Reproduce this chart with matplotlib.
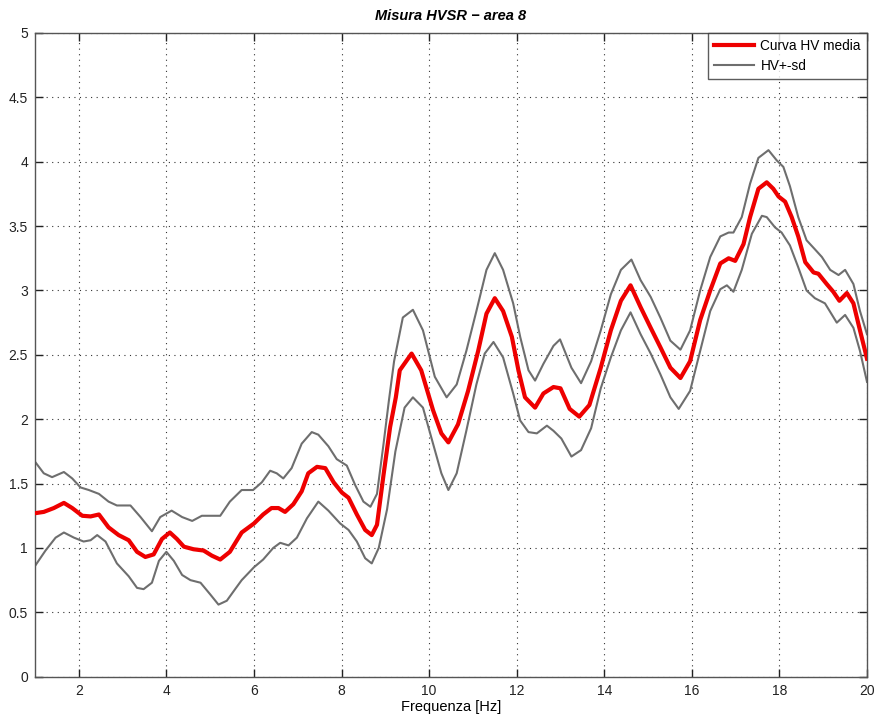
import matplotlib
matplotlib.use("Agg")
import matplotlib.pyplot as plt

# Mean HV curve
f_mean = [1.0, 1.2, 1.43, 1.66, 1.85, 2.08, 2.27, 2.46, 2.68, 2.91, 3.14, 3.33, 3.52, 3.71, 3.9,
          4.08, 4.24, 4.4, 4.62, 4.85, 5.04, 5.23, 5.45, 5.72, 6.0, 6.21, 6.4, 6.56, 6.71, 6.9,
          7.09, 7.24, 7.44, 7.63, 7.82, 8.01, 8.16, 8.35, 8.54, 8.69, 8.81, 8.96, 9.11, 9.24,
          9.33, 9.6, 9.82, 10.09, 10.28, 10.44, 10.66, 10.89, 11.12, 11.31, 11.5, 11.69, 11.89,
          12.04, 12.19, 12.42, 12.61, 12.84, 13.0, 13.21, 13.43, 13.66, 13.92, 14.15, 14.38,
          14.6, 14.83, 15.06, 15.28, 15.51, 15.74, 15.96, 16.19, 16.42, 16.65, 16.84, 16.99,
          17.18, 17.33, 17.52, 17.71, 17.86, 17.98, 18.13, 18.28, 18.43, 18.59, 18.78, 18.89,
          19.08, 19.23, 19.37, 19.54, 19.69, 19.84, 20.0]
hv_mean = [1.27, 1.28, 1.31, 1.35, 1.31, 1.25, 1.245, 1.26, 1.16, 1.10, 1.06, 0.97, 0.93, 0.95,
           1.07, 1.12, 1.07, 1.01, 0.99, 0.98, 0.94, 0.91, 0.97, 1.12, 1.19, 1.26, 1.31, 1.31,
           1.28, 1.34, 1.44, 1.58, 1.63, 1.62, 1.51, 1.43, 1.39, 1.26, 1.14, 1.10, 1.18, 1.57,
           1.94, 2.17, 2.38, 2.51, 2.38, 2.07, 1.89, 1.82, 1.96, 2.22, 2.53, 2.82, 2.94, 2.84,
           2.64, 2.38, 2.17, 2.09, 2.20, 2.25, 2.24, 2.08, 2.02, 2.11, 2.40, 2.69, 2.92, 3.04,
           2.87, 2.71, 2.56, 2.40, 2.32, 2.45, 2.77, 3.0, 3.21, 3.25, 3.23, 3.36, 3.57, 3.79,
           3.84, 3.79, 3.73, 3.69, 3.57, 3.42, 3.22, 3.14, 3.13, 3.05, 2.99, 2.92, 2.98, 2.90,
           2.69, 2.47]

# Upper curve (HV + sd)
f_up = [1.0, 1.2, 1.39, 1.66, 1.85, 2.04, 2.23, 2.46, 2.68, 2.87, 3.18, 3.41, 3.67, 3.86, 4.12,
        4.36, 4.59, 4.81, 5.23, 5.45, 5.72, 5.98, 6.18, 6.37, 6.52, 6.67, 6.86, 7.09, 7.32, 7.47,
        7.7, 7.89, 8.12, 8.31, 8.5, 8.66, 8.81, 8.96, 9.08, 9.2, 9.4, 9.63, 9.86, 10.13, 10.4,
        10.63, 10.85, 11.08, 11.31, 11.5, 11.69, 11.92, 12.08, 12.27, 12.42, 12.61, 12.84,
        12.99, 13.25, 13.47, 13.7, 13.92, 14.15, 14.38, 14.62, 14.83, 15.06, 15.28, 15.51,
        15.74, 15.96, 16.19, 16.42, 16.65, 16.84, 16.95, 17.14, 17.33, 17.52, 17.75, 17.94,
        18.09, 18.24, 18.43, 18.62, 18.81, 18.97, 19.16, 19.35, 19.5, 19.69, 19.84, 20.0]
hv_up = [1.67, 1.58, 1.55, 1.59, 1.54, 1.47, 1.45, 1.42, 1.36, 1.33, 1.33, 1.24, 1.13, 1.24,
         1.29, 1.24, 1.21, 1.25, 1.25, 1.36, 1.45, 1.45, 1.51, 1.60, 1.58, 1.54, 1.62, 1.81,
         1.90, 1.88, 1.79, 1.69, 1.64, 1.49, 1.36, 1.32, 1.42, 1.81, 2.14, 2.45, 2.79, 2.85,
         2.69, 2.33, 2.17, 2.27, 2.53, 2.84, 3.16, 3.29, 3.16, 2.90, 2.64, 2.38, 2.30, 2.43,
         2.57, 2.62, 2.40, 2.28, 2.45, 2.69, 2.97, 3.16, 3.24, 3.08, 2.95, 2.79, 2.61, 2.54,
         2.69, 3.0, 3.26, 3.42, 3.45, 3.45, 3.57, 3.83, 4.03, 4.09, 4.01, 3.96, 3.81, 3.57,
         3.39, 3.32, 3.26, 3.16, 3.12, 3.16, 3.05, 2.84, 2.66]

# Lower curve (HV - sd)
f_lo = [1.0, 1.24, 1.47, 1.66, 1.89, 2.11, 2.27, 2.42, 2.61, 2.87, 3.14, 3.33, 3.48, 3.67, 3.83,
        4.0, 4.17, 4.36, 4.55, 4.78, 5.0, 5.19, 5.38, 5.57, 5.72, 6.0, 6.21, 6.44, 6.6, 6.79,
        6.98, 7.21, 7.47, 7.7, 7.97, 8.16, 8.35, 8.54, 8.69, 8.85, 9.04, 9.23, 9.44, 9.63, 9.86,
        10.09, 10.28, 10.44, 10.63, 10.85, 11.08, 11.27, 11.47, 11.69, 11.92, 12.08, 12.27,
        12.46, 12.69, 12.84, 13.02, 13.25, 13.47, 13.7, 13.92, 14.15, 14.38, 14.6, 14.83, 15.06,
        15.28, 15.51, 15.7, 15.96, 16.19, 16.42, 16.65, 16.8, 16.95, 17.14, 17.37, 17.6, 17.71,
        17.9, 18.05, 18.24, 18.43, 18.62, 18.81, 19.04, 19.31, 19.5, 19.69, 19.84, 20.0]
hv_lo = [0.86, 0.98, 1.08, 1.12, 1.08, 1.05, 1.06, 1.10, 1.05, 0.88, 0.78, 0.69, 0.68, 0.73,
         0.90, 0.97, 0.90, 0.79, 0.75, 0.73, 0.64, 0.56, 0.59, 0.68, 0.75, 0.85, 0.91, 1.0,
         1.04, 1.02, 1.08, 1.23, 1.36, 1.29, 1.19, 1.14, 1.05, 0.92, 0.88, 1.0, 1.30, 1.75,
         2.09, 2.17, 2.09, 1.81, 1.58, 1.45, 1.58, 1.91, 2.27, 2.51, 2.60, 2.48, 2.20, 1.99,
         1.90, 1.89, 1.95, 1.91, 1.85, 1.71, 1.76, 1.93, 2.24, 2.48, 2.69, 2.83, 2.66, 2.51,
         2.35, 2.17, 2.08, 2.22, 2.53, 2.84, 3.01, 3.04, 2.99, 3.16, 3.44, 3.58, 3.57, 3.49,
         3.45, 3.35, 3.18, 3.0, 2.94, 2.90, 2.75, 2.81, 2.71, 2.53, 2.29]

x_ticks = [2, 4, 6, 8, 10, 12, 14, 16, 18, 20]
y_ticks = [0, 0.5, 1, 1.5, 2, 2.5, 3, 3.5, 4, 4.5, 5]
y_ticklabels = ["0", "0.5", "1", "1.5", "2", "2.5", "3", "3.5", "4", "4.5", "5"]

plt.rcParams['font.family'] = ['Liberation Sans', 'DejaVu Sans']

fig = plt.figure(figsize=(8.78, 7.15), dpi=100)
ax = fig.add_axes([35 / 878, (715 - 676.7) / 715, 832 / 878, 643.7 / 715])

ax.plot(f_mean, hv_mean, color='#ee0000', lw=3.0, label='Curva HV media', zorder=3,
        solid_joinstyle='round')
ax.plot(f_up, hv_up, color='#6e6e6e', lw=1.5, label='HV+-sd', zorder=2,
        solid_joinstyle='round')
ax.plot(f_lo, hv_lo, color='#6e6e6e', lw=1.5, zorder=2, solid_joinstyle='round')

ax.set_xlim(1, 20)
ax.set_ylim(0, 5)
ax.set_xticks(x_ticks)
ax.set_xticklabels([str(t) for t in x_ticks])
ax.set_yticks(y_ticks)
ax.set_yticklabels(y_ticklabels)
ax.grid(True, color='black', linestyle=(0, (1, 4)), linewidth=0.8, alpha=0.8)
ax.tick_params(direction='in', length=6, width=1, top=True, right=True,
               labelsize=10, colors='#222222', pad=5)
for s in ax.spines.values():
    s.set_color('#555555')
    s.set_linewidth(1.0)

ax.set_title('Misura HVSR \u2212 area 8', fontsize=10.5, fontweight='bold',
             fontstyle='italic', pad=9)
ax.set_xlabel('Frequenza [Hz]', fontsize=10.5, labelpad=2)

leg = ax.legend(loc='upper right', fontsize=9.8, frameon=True, fancybox=False,
                borderaxespad=0.0, handlelength=2.9, handletextpad=0.5,
                borderpad=0.45, labelspacing=0.4)
leg.get_frame().set_edgecolor('#333333')
leg.get_frame().set_linewidth(1.0)

fig.savefig('out.png', dpi=100)
